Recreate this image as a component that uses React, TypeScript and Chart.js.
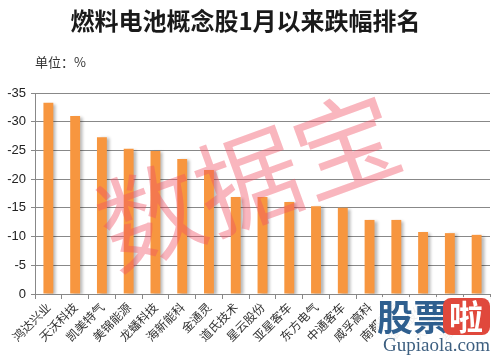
import React, { useEffect, useRef } from "react";
import { Chart, registerables } from "chart.js";

Chart.register(...registerables);

const TITLE = "燃料电池概念股1月以来跌幅排名";
const UNIT = "单位：%";
const WATERMARK = "数据宝";
const categories = [
  "鸿达兴业", "天沃科技", "凯美特气", "美锦能源", "龙蟠科技", "海新能科",
  "金通灵", "道氏技术", "星云股份", "亚星客车", "东方电气", "中通客车",
  "威孚高科", "南都电源", "雄韬股份", "大洋电机", "潍柴动力",
];
const values = [
  -33.3, -31.0, -27.3, -25.3, -24.9, -23.5, -21.6, -16.9, -16.9, -16.0,
  -15.3, -15.0, -12.9, -12.9, -10.8, -10.6, -10.3,
];
const yTicks = [0, -5, -10, -15, -20, -25, -30, -35];

const CJK = '"Noto Sans CJK SC", "Noto Sans", sans-serif';

const decorPlugin = {
  id: "decor",
  beforeDatasetDraw(chart: any) {
    const ctx = chart.ctx;
    ctx.save();
    ctx.shadowColor = "rgba(0,0,0,0.28)";
    ctx.shadowOffsetX = 3;
    ctx.shadowOffsetY = 1;
    ctx.shadowBlur = 3;
  },
  afterDatasetDraw(chart: any) {
    chart.ctx.restore();
  },
  afterDraw(chart: any) {
    const ctx = chart.ctx;
    const area = chart.chartArea;
    ctx.save();
    // title
    ctx.fillStyle = "#1a1a1a";
    ctx.font = `bold 24px ${CJK}`;
    ctx.textAlign = "center";
    ctx.textBaseline = "middle";
    ctx.fillText(TITLE, chart.width / 2, 21);
    // unit
    ctx.font = `13px ${CJK}`;
    ctx.textAlign = "left";
    ctx.fillStyle = "#333";
    ctx.fillText(UNIT, area.left, 62);
    // watermark
    ctx.save();
    ctx.translate(248, 180);
    ctx.rotate((-20 * Math.PI) / 180);
    ctx.font = `104px ${CJK}`;
    ctx.textAlign = "center";
    ctx.textBaseline = "middle";
    ctx.fillStyle = "rgba(240, 80, 100, 0.42)";
    ctx.fillText(WATERMARK, 0, 0);
    ctx.restore();
    // logo
    ctx.fillStyle = "rgba(255,255,255,0.92)";
    ctx.fillRect(376, 297, 115, 60);
    ctx.font = `bold 36px ${CJK}`;
    ctx.textAlign = "left";
    ctx.textBaseline = "middle";
    ctx.fillStyle = "#2f5f8f";
    ctx.fillText("股票", 377, 317);
    ctx.fillStyle = "#e0483c";
    const rx = 443, ry = 298, rw = 47, rh = 37, r = 8;
    ctx.beginPath();
    ctx.moveTo(rx + r, ry);
    ctx.arcTo(rx + rw, ry, rx + rw, ry + rh, r);
    ctx.arcTo(rx + rw, ry + rh, rx, ry + rh, r);
    ctx.arcTo(rx, ry + rh, rx, ry, r);
    ctx.arcTo(rx, ry, rx + rw, ry, r);
    ctx.closePath();
    ctx.fill();
    ctx.fillStyle = "#fff";
    ctx.font = `bold 34px ${CJK}`;
    ctx.fillText("啦", 449, 317);
    ctx.fillStyle = "#3d5f80";
    ctx.font = `19px "Liberation Serif", "DejaVu Serif", serif`;
    ctx.fillText("Gupiaola.com", 383, 346);
    ctx.restore();
  },
};

export default function App() {
  const ref = useRef<HTMLCanvasElement | null>(null);
  useEffect(() => {
    if (!ref.current) return;
    const chart = new Chart(ref.current, {
      type: "bar",
      data: {
        labels: categories,
        datasets: [
          {
            data: values,
            backgroundColor: "#F7963F",
            barPercentage: 0.37,
            categoryPercentage: 1,
          },
        ],
      },
      options: {
        animation: false,
        responsive: false,
        layout: { padding: { top: 93, right: 1, left: 0, bottom: 0 } },
        plugins: {
          legend: { display: false },
          title: { display: false },
          tooltip: { enabled: false },
        },
        scales: {
          x: {
            grid: {
              drawOnChartArea: false,
              drawTicks: true,
              tickLength: 5,
              color: "#888",
              offset: true,
            },
            border: { display: true, color: "#888" },
            ticks: {
              maxRotation: 45,
              minRotation: 45,
              autoSkip: false,
              color: "#333",
              font: { family: CJK, size: 12 },
              padding: 1,
            },
            afterFit(scale: any) {
              scale.height = 63;
            },
          },
          y: {
            reverse: true,
            min: -35,
            max: 0,
            afterBuildTicks(scale: any) {
              scale.ticks = yTicks.map((v) => ({ value: v }));
            },
            grid: { color: "#888", tickLength: 4 },
            border: { display: true, color: "#888" },
            ticks: {
              color: "#222",
              font: { family: '"Liberation Sans", "DejaVu Sans", sans-serif', size: 13 },
              padding: 5,
            },
            afterFit(scale: any) {
              scale.width = 35;
            },
          },
        },
      },
      plugins: [decorPlugin],
    });
    return () => chart.destroy();
  }, []);
  return (
    <div style={{ position: "fixed", left: 0, top: 0, width: 491, height: 357, background: "#fff" }}>
      <canvas ref={ref} width={491} height={357} style={{ width: 491, height: 357 }} />
    </div>
  );
}
